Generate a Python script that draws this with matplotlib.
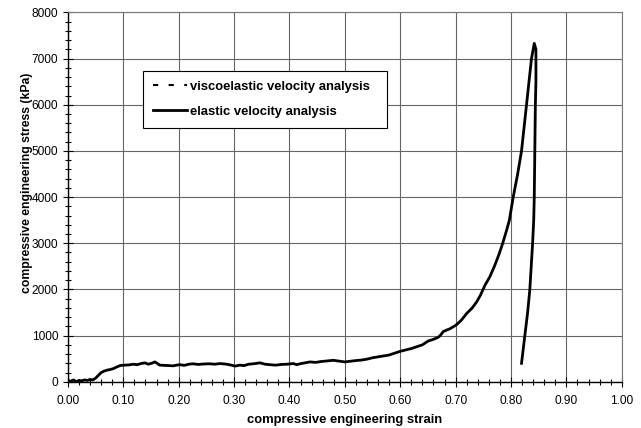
import matplotlib
matplotlib.use("Agg")
import matplotlib.pyplot as plt
from matplotlib.lines import Line2D
from matplotlib.ticker import MultipleLocator, FormatStrFormatter

plt.rcParams['font.family'] = ['Liberation Sans', 'DejaVu Sans']

strain = [0.000, 0.005, 0.010, 0.015, 0.020, 0.025, 0.030, 0.035, 0.040, 0.045, 0.050, 0.055,
          0.060, 0.065, 0.070, 0.076, 0.082, 0.088, 0.094, 0.100, 0.110, 0.118, 0.125, 0.132,
          0.139, 0.145, 0.151, 0.157, 0.162, 0.166, 0.175, 0.183, 0.190, 0.196, 0.202, 0.210,
          0.218, 0.226, 0.235, 0.245, 0.256, 0.265, 0.275, 0.287, 0.295, 0.302, 0.310, 0.318,
          0.326, 0.335, 0.347, 0.356, 0.365, 0.375, 0.385, 0.395, 0.407, 0.413, 0.419, 0.428,
          0.437, 0.447, 0.458, 0.467, 0.479, 0.488, 0.500, 0.510, 0.520, 0.530, 0.540, 0.550,
          0.560, 0.570, 0.580, 0.590, 0.600, 0.610, 0.620, 0.630, 0.640, 0.650, 0.660, 0.668,
          0.672, 0.678, 0.690, 0.701, 0.710, 0.720, 0.730, 0.738, 0.745, 0.753, 0.762, 0.770,
          0.778, 0.785, 0.792, 0.797, 0.804, 0.812, 0.819, 0.828, 0.837, 0.842, 0.845, 0.845,
          0.844, 0.843, 0.842, 0.841, 0.839, 0.837, 0.834, 0.830, 0.825, 0.822, 0.819]
stress = [30, 10, 40, 0, 30, 20, 40, 30, 50, 40, 80, 140,
          200, 230, 250, 265, 285, 320, 350, 360, 365, 380, 370, 395,
          410, 380, 400, 430, 390, 360, 355, 350, 345, 360, 370, 355,
          380, 390, 375, 385, 390, 380, 395, 380, 360, 340, 360, 350,
          380, 390, 410, 380, 370, 360, 375, 380, 395, 370, 390, 410,
          430, 420, 440, 450, 465, 450, 430, 445, 460, 470, 490, 520,
          540, 560, 580, 620, 660, 690, 720, 760, 800, 880, 920, 960,
          1000, 1090, 1150, 1230, 1330, 1480, 1600, 1730, 1880, 2090, 2280, 2500,
          2750, 3000, 3280, 3500, 4000, 4500, 5000, 6000, 7000, 7330, 7200, 6500,
          6000, 5000, 4000, 3500, 3000, 2600, 2000, 1500, 1000, 700, 400]

series_labels = ["viscoelastic velocity analysis", "elastic velocity analysis"]
x_label = "compressive engineering strain"
y_label = "compressive engineering stress (kPa)"

fig = plt.figure(figsize=(6.41, 4.28), dpi=100)
ax = fig.add_axes([0.106, 0.108, 0.864, 0.863])

ax.plot(strain, stress, color='black', lw=2.0, solid_joinstyle='round', zorder=3)

ax.set_xlim(0, 1.0)
ax.set_ylim(0, 8000)
ax.xaxis.set_major_locator(MultipleLocator(0.1))
ax.xaxis.set_minor_locator(MultipleLocator(0.02))
ax.yaxis.set_major_locator(MultipleLocator(1000))
ax.yaxis.set_minor_locator(MultipleLocator(200))
ax.xaxis.set_major_formatter(FormatStrFormatter('%.2f'))

ax.grid(True, which='major', color='#666666', lw=0.8)
ax.tick_params(which='major', direction='inout', length=7, width=0.8, labelsize=8.6, colors='black')
ax.tick_params(which='minor', direction='inout', length=5, width=0.8)
ax.tick_params(axis='x', which='both', top=False)
ax.tick_params(axis='y', which='both', right=False)
ax.tick_params(axis='x', pad=6)

for s in ['left', 'bottom']:
    ax.spines[s].set_color('black')
    ax.spines[s].set_linewidth(1.0)
for s in ['top', 'right']:
    ax.spines[s].set_color('#777777')
    ax.spines[s].set_linewidth(0.8)

ax.set_xlabel(x_label, fontsize=9.4, fontweight='bold', labelpad=5)
ax.set_ylabel(y_label, fontsize=8.8, fontweight='bold', labelpad=6)
ax.yaxis.set_label_coords(-0.064, 0.54)

handles = [Line2D([], [], color='black', lw=1.5, ls=(0, (2.5, 5))),
           Line2D([], [], color='black', lw=2.0)]
leg = ax.legend(handles, series_labels, loc='upper left',
                bbox_to_anchor=(0.1355, 0.0, 0.4407, 0.842), mode='expand',
                prop={'weight': 'bold', 'size': 9.4}, frameon=True, fancybox=False,
                edgecolor='black', framealpha=1, handlelength=2.6, handletextpad=0.25,
                labelspacing=1.0, borderpad=0.75, borderaxespad=0)
leg.get_frame().set_linewidth(0.8)

fig.savefig("out.png", dpi=100)
